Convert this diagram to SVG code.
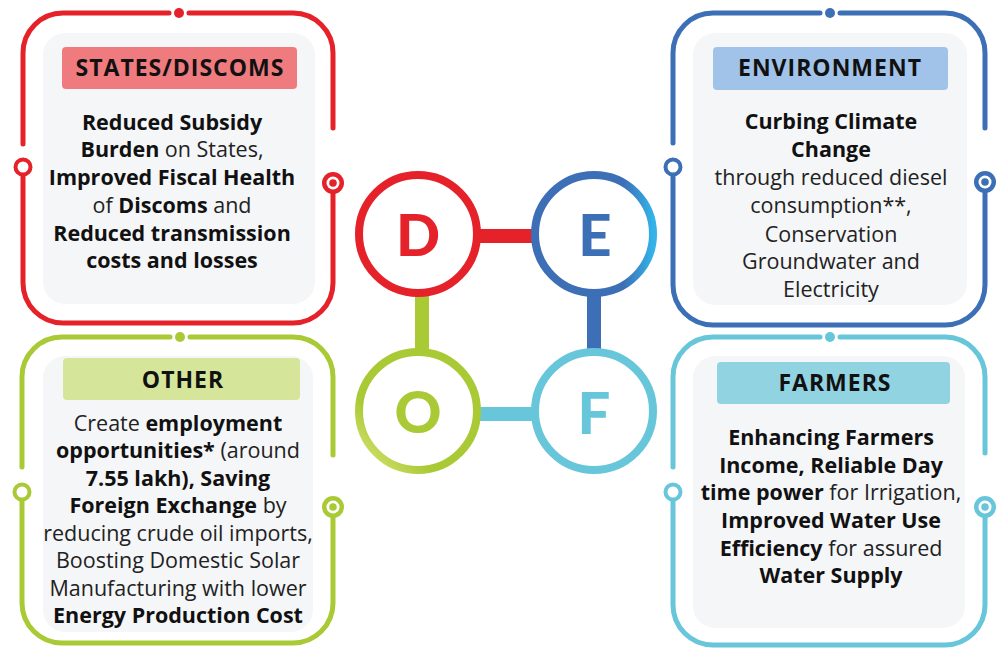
<svg xmlns="http://www.w3.org/2000/svg" width="1000" height="650" viewBox="0 0 1000 650">
<defs>
<style>
.frame{fill:none;stroke-width:5;stroke-linecap:round}
.bg{fill:#f5f6f8}
.ring{fill:#fff;stroke-width:4}
.hd{font-family:"Open Sans","Liberation Sans",sans-serif;font-weight:700;font-size:23px;letter-spacing:1px;fill:#111;text-anchor:middle}
.tx{font-family:"Open Sans","Liberation Sans",sans-serif;font-size:21.5px;fill:#222;text-anchor:middle}
.b{font-weight:700;fill:#111}
.big{font-family:Lato,"Liberation Sans",sans-serif;font-weight:900;font-size:58px;text-anchor:middle}
.bigc{fill:#fff;stroke-width:8}
.red{stroke:#e52229}
.blue{stroke:#3d6fb6}
.green{stroke:#a9c935}
.cyan{stroke:#68c6da}
</style>
<linearGradient id="gE" x1="0" y1="0" x2="1" y2="0">
<stop offset="0" stop-color="#3d6fb6"/><stop offset="0.75" stop-color="#3d6fb6"/><stop offset="1" stop-color="#33b3e8"/>
</linearGradient>
<linearGradient id="gO" x1="0" y1="1" x2="1" y2="0">
<stop offset="0" stop-color="#dfe67a"/><stop offset="0.3" stop-color="#a9c935"/><stop offset="1" stop-color="#a9c935"/>
</linearGradient>
</defs>

<g id="connectors">
<rect x="476" y="229" width="60" height="14" fill="#e52229"/>
<rect x="587" y="290" width="14" height="64" fill="#3d6fb6"/>
<rect x="415" y="290" width="14" height="64" fill="#a9c935"/>
<rect x="476" y="407" width="60" height="14" fill="#68c6da"/>
</g>

<g id="node-D">
<circle class="bigc red" cx="418" cy="234" r="59"/>
<text class="big" x="418" y="256" fill="#e52229">D</text>
</g>
<g id="node-E">
<circle class="bigc" cx="594" cy="234" r="59" stroke="url(#gE)"/>
<text class="big" x="595" y="256" fill="#3d6fb6">E</text>
</g>
<g id="node-O">
<circle class="bigc" cx="418" cy="411" r="59" stroke="url(#gO)"/>
<text class="big" x="418" y="433" fill="#a9c935">O</text>
</g>
<g id="node-F">
<circle class="bigc cyan" cx="594" cy="411" r="59"/>
<text class="big" x="594" y="434" fill="#68c6da">F</text>
</g>

<g id="panel-states">
<rect class="bg" x="43" y="33" width="272" height="271" rx="22"/>
<path class="frame red" d="M169 13 H63 A40 40 0 0 0 23 53 V144"/>
<path class="frame red" d="M23 176 V283 A40 40 0 0 0 63 323 H293 A40 40 0 0 0 333 283 V193"/>
<path class="frame red" d="M333 128 V53 A40 40 0 0 0 293 13 H189"/>
<circle cx="179" cy="13" r="5" fill="#e52229"/>
<circle class="ring red" cx="23" cy="167" r="7.5"/>
<circle cx="333" cy="183" r="11" fill="#e52229"/>
<circle cx="333" cy="183" r="6.5" fill="#fff"/>
<circle cx="333" cy="183" r="3.8" fill="#e52229"/>
<rect x="62" y="47" width="235" height="42" rx="4" fill="#ef7b7f"/>
<text class="hd" x="180" y="76">STATES/DISCOMS</text>
<text class="tx" x="172" y="130"><tspan class="b">Reduced Subsidy</tspan></text>
<text class="tx" x="172" y="157"><tspan class="b">Burden</tspan> on States,</text>
<text class="tx" x="172" y="185"><tspan class="b">Improved Fiscal Health</tspan></text>
<text class="tx" x="172" y="213">of <tspan class="b">Discoms</tspan> and</text>
<text class="tx" x="172" y="241"><tspan class="b">Reduced transmission</tspan></text>
<text class="tx" x="172" y="268"><tspan class="b">costs and losses</tspan></text>
</g>

<g id="panel-environment">
<rect class="bg" x="693" y="33" width="274" height="272" rx="22"/>
<path class="frame blue" d="M820 13 H713 A40 40 0 0 0 673 53 V143"/>
<path class="frame blue" d="M673 176 V285 A40 40 0 0 0 713 325 H945 A40 40 0 0 0 985 285 V193"/>
<path class="frame blue" d="M985 128 V53 A40 40 0 0 0 945 13 H840"/>
<circle cx="830" cy="13" r="5" fill="#3d6fb6"/>
<circle class="ring blue" cx="673" cy="167" r="7.5"/>
<circle cx="985" cy="182" r="11" fill="#3d6fb6"/>
<circle cx="985" cy="182" r="6.5" fill="#fff"/>
<circle cx="985" cy="182" r="3.8" fill="#3d6fb6"/>
<rect x="713" y="47" width="235" height="43" rx="4" fill="#a2c3e9"/>
<text class="hd" x="830" y="76">ENVIRONMENT</text>
<text class="tx" x="831" y="129"><tspan class="b">Curbing Climate</tspan></text>
<text class="tx" x="831" y="157"><tspan class="b">Change</tspan></text>
<text class="tx" x="831" y="185">through reduced diesel</text>
<text class="tx" x="831" y="213">consumption**,</text>
<text class="tx" x="831" y="242">Conservation</text>
<text class="tx" x="831" y="269">Groundwater and</text>
<text class="tx" x="831" y="297">Electricity</text>
</g>

<g id="panel-other">
<rect class="bg" x="43" y="356" width="270" height="276" rx="22"/>
<path class="frame green" d="M170 337 H62 A40 40 0 0 0 22 377 V467"/>
<path class="frame green" d="M22 501 V603 A40 40 0 0 0 62 643 H293 A40 40 0 0 0 333 603 V517"/>
<path class="frame green" d="M333 455 V377 A40 40 0 0 0 293 337 H190"/>
<circle cx="180" cy="337" r="5" fill="#a9c935"/>
<circle class="ring green" cx="22" cy="492" r="7.5"/>
<circle cx="333" cy="507" r="11" fill="#a9c935"/>
<circle cx="333" cy="507" r="6.5" fill="#fff"/>
<circle cx="333" cy="507" r="3.8" fill="#a9c935"/>
<rect x="63" y="358" width="237" height="42" rx="4" fill="#d5e69b"/>
<text class="hd" x="183" y="388">OTHER</text>
<text class="tx" x="178" y="431">Create <tspan class="b">employment</tspan></text>
<text class="tx" x="178" y="458"><tspan class="b">opportunities*</tspan> (around</text>
<text class="tx" x="178" y="486"><tspan class="b">7.55 lakh), Saving</tspan></text>
<text class="tx" x="178" y="513"><tspan class="b">Foreign Exchange</tspan> by</text>
<text class="tx" x="178" y="541">reducing crude oil imports,</text>
<text class="tx" x="178" y="568">Boosting Domestic Solar</text>
<text class="tx" x="178" y="596">Manufacturing with lower</text>
<text class="tx" x="178" y="623"><tspan class="b">Energy Production Cost</tspan></text>
</g>

<g id="panel-farmers">
<rect class="bg" x="693" y="356" width="272" height="272" rx="22"/>
<path class="frame cyan" d="M820 337 H713 A40 40 0 0 0 673 377 V467"/>
<path class="frame cyan" d="M673 501 V605 A40 40 0 0 0 713 645 H945 A40 40 0 0 0 985 605 V517"/>
<path class="frame cyan" d="M985 453 V377 A40 40 0 0 0 945 337 H840"/>
<circle cx="830" cy="337" r="5" fill="#68c6da"/>
<circle class="ring cyan" cx="673" cy="492" r="7.5"/>
<circle cx="985" cy="507" r="11" fill="#68c6da"/>
<circle cx="985" cy="507" r="6.5" fill="#fff"/>
<circle cx="985" cy="507" r="3.8" fill="#68c6da"/>
<rect x="717" y="362" width="233" height="42" rx="4" fill="#92d3e2"/>
<text class="hd" x="835" y="391">FARMERS</text>
<text class="tx" x="831" y="445"><tspan class="b">Enhancing Farmers</tspan></text>
<text class="tx" x="831" y="473"><tspan class="b">Income, Reliable Day</tspan></text>
<text class="tx" x="831" y="500"><tspan class="b">time power</tspan> for Irrigation,</text>
<text class="tx" x="831" y="528"><tspan class="b">Improved Water Use</tspan></text>
<text class="tx" x="831" y="556"><tspan class="b">Efficiency</tspan> for assured</text>
<text class="tx" x="831" y="583"><tspan class="b">Water Supply</tspan></text>
</g>
</svg>
